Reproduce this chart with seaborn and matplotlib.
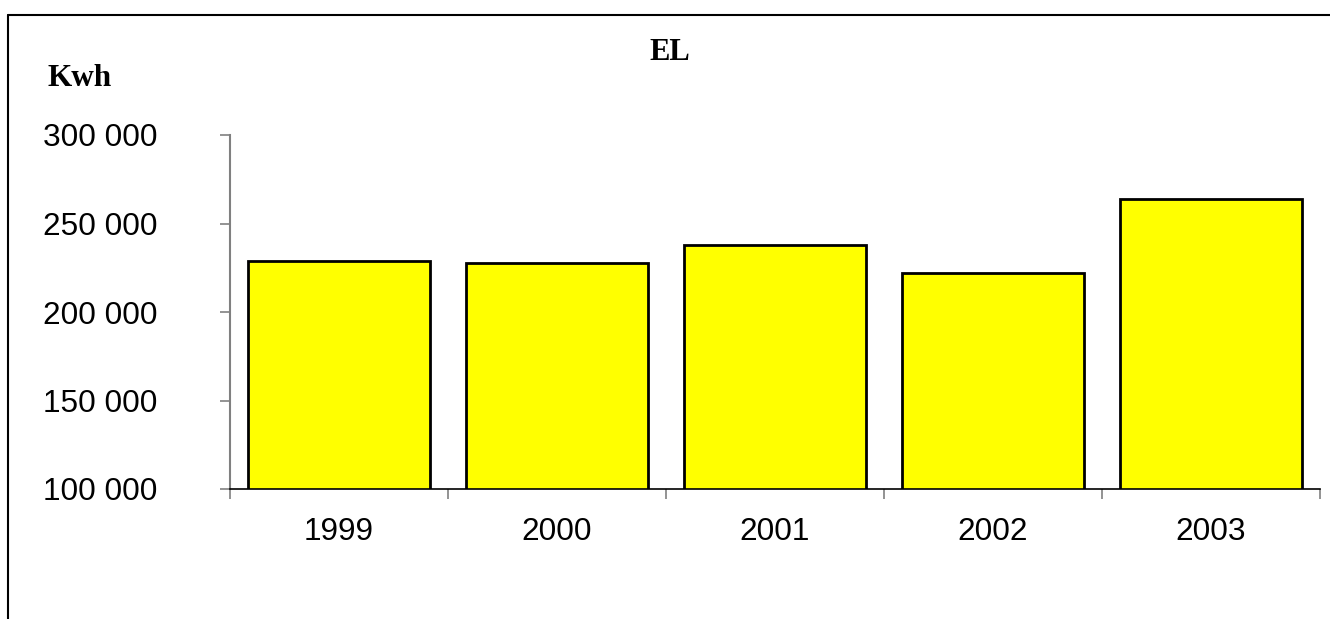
import matplotlib
matplotlib.use("Agg")
import matplotlib.pyplot as plt
import seaborn as sns
import pandas as pd
from matplotlib.lines import Line2D
from matplotlib.ticker import FuncFormatter, FixedLocator

years = ["1999", "2000", "2001", "2002", "2003"]
kwh = [229000, 227700, 237900, 222000, 263800]
yticks = [100000, 150000, 200000, 250000, 300000]
title = "EL"
unit_label = "Kwh"

sns.set_theme(style="white")
plt.rcParams['font.family'] = ['Liberation Sans', 'DejaVu Sans']
plt.rcParams['text.color'] = 'black'

df = pd.DataFrame({"year": years, "kwh": kwh})

fig = plt.figure(figsize=(13.3, 6.19), dpi=100)
ax = fig.add_axes([230/1330, 1-489/619, (1320-230)/1330, (489-135)/619])

sns.barplot(data=df, x="year", y="kwh", ax=ax, color="#FFFF00", saturation=1,
            edgecolor="black", linewidth=2.0, width=0.835)

ax.set_ylim(100000, 300000)
ax.set_xlim(-0.5, len(years) - 0.5)
ax.set_yticks(yticks)
ax.yaxis.set_major_formatter(FuncFormatter(lambda v, p: f"{int(v):,}".replace(",", " ")))
ax.set_xlabel("")
ax.set_ylabel("")

ax.xaxis.set_minor_locator(FixedLocator([i - 0.5 for i in range(len(years) + 1)]))
ax.tick_params(axis="x", which="major", length=0, pad=20, labelsize=22.7, labelcolor="black")
ax.tick_params(axis="x", which="minor", length=7, width=1.2, color="#808080", bottom=True)
ax.tick_params(axis="y", which="major", length=7, width=1.2, color="#808080", left=True,
               pad=45, labelsize=22.7, labelcolor="black")

for s in ["top", "right"]:
    ax.spines[s].set_visible(False)
ax.spines["left"].set_color("#808080")
ax.spines["left"].set_linewidth(1.5)
ax.spines["bottom"].set_color("black")
ax.spines["bottom"].set_linewidth(1.2)

fig.text(670/1330, 1-53/619, title, ha="center", va="center", fontsize=22,
         fontweight="bold", color="black", family=["Liberation Serif", "DejaVu Serif"])
fig.text(80/1330, 1-78/619, unit_label, ha="center", va="center", fontsize=22.5,
         fontweight="bold", color="black", family=["Liberation Serif", "DejaVu Serif"])

# outer frame (left and top)
fig.add_artist(Line2D([8/1330, 8/1330], [0, 1-15/619], transform=fig.transFigure,
                      color="black", linewidth=1.5))
fig.add_artist(Line2D([8/1330, 1], [1-15/619, 1-15/619], transform=fig.transFigure,
                      color="black", linewidth=1.5))

fig.savefig("out.png", dpi=100)
